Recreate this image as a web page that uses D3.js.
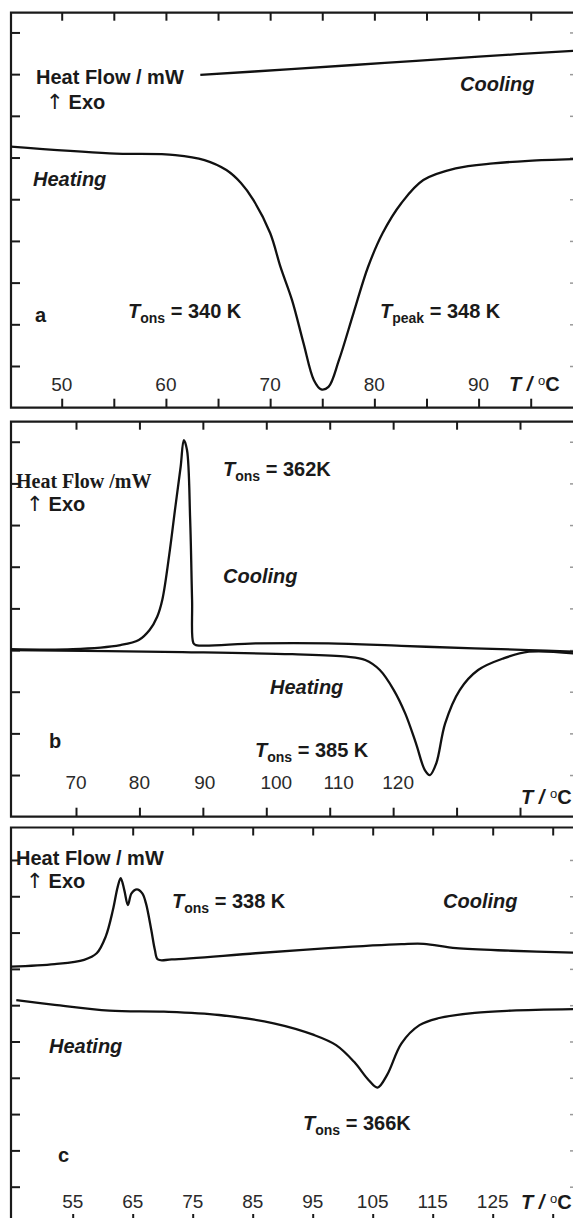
<!DOCTYPE html>
<html><head><meta charset="utf-8">
<script src="https://cdn.jsdelivr.net/npm/d3@7"></script>
<style>
body{margin:0;background:#fff;}
svg{display:block;}
text{font-family:"Liberation Sans",Arial,sans-serif;}
</style>
</head><body>
<svg id="chart" width="573" height="1218"></svg>
<script>
// ---------- data ----------
// Panel a
const aHeatT = [45.1,54.6,60.9,63.7,65.8,67.2,68.4,70.0,71.0,72.1,73.2,74.2,74.9,75.6,76.6,78.0,79.4,80.8,82.6,84.7,87.8,91.4,94.8,99.1];
const aHeatY = [6.26,6.10,6.06,5.94,5.70,5.39,4.98,4.19,3.37,2.58,1.55,0.66,0.44,0.50,1.14,2.27,3.38,4.19,4.91,5.46,5.74,5.86,5.92,5.96];
const aCoolT = [63.3,72.0,81.0,90.0,99.1];
const aCoolY = [7.98,8.12,8.27,8.42,8.56];
const aTicks = [50,55,60,65,70,75,80,85,90,95];
const aTickLabels = [50,60,70,80,90];
// Panel b
const bCoolT = [59.7,69.5,77.0,79.9,81.6,82.8,83.6,84.8,85.6,86.5,87.0,87.5,88.0,88.3,88.5,88.9,98.3,109.8,121.3,132.8,141.4,148.4];
const bCoolY = [4.02,4.02,4.12,4.24,4.48,4.80,5.20,6.40,7.36,8.40,9.04,8.80,7.12,5.20,4.17,4.12,4.16,4.16,4.10,4.04,4.00,3.96];
const bHeatT = [59.7,86.8,104.1,112.7,115.6,117.9,120.1,121.9,123.6,125.0,125.8,126.8,128.2,130.5,133.4,137.4,141.4,148.4];
const bHeatY = [4.00,3.95,3.90,3.84,3.76,3.52,3.04,2.48,1.76,1.12,1.00,1.28,2.24,3.04,3.52,3.80,3.96,3.92];
const bTicks = [70,80,90,100,110,120,130,140];
const bTickLabels = [70,80,90,100,110,120];
// Panel c
const cCoolT = [44.7,52.0,56.9,59.0,60.5,61.7,62.5,63.0,63.6,64.2,64.8,65.7,66.6,67.2,68.1,68.7,69.2,71.5,85.5,97.6,109.8,113.5,118.9,128.1,138.4];
const cCoolY = [7.06,7.13,7.25,7.43,7.89,8.62,9.26,9.50,9.17,8.76,9.08,9.19,9.08,8.81,8.07,7.52,7.26,7.26,7.43,7.57,7.68,7.69,7.57,7.50,7.45];
const cHeatT = [45.6,52.0,61.1,70.2,79.4,88.5,95.2,98.9,101.9,104.3,105.8,107.4,109.8,112.8,115.9,122.0,128.1,138.4];
const cHeatY = [6.14,6.01,5.85,5.82,5.73,5.50,5.18,4.90,4.44,3.94,3.73,4.08,4.95,5.45,5.64,5.79,5.85,5.89];
const cTicks = [55,65,75,85,95,105,115,125,135];
const cTickLabels = [55,65,75,85,95,105,115,125];

// ---------- drawing ----------
const svg = d3.select("#chart");
const W = 573, L = 11, INK = "#1a1a1a";

function zip(t, y){ return t.map((v,i)=>[v, y[i]]); }

function subLabel(g, x, y, sub, rest){
  const t = g.append("text").attr("x", x).attr("y", y)
    .attr("font-size", 20).attr("font-weight", "bold").attr("fill", INK);
  t.append("tspan").attr("font-style","italic").text("T");
  t.append("tspan").attr("font-size", 14).attr("dy", 5).text(sub);
  t.append("tspan").attr("dy", -5).text(rest);
}
function plain(g, x, y, s, opts={}){
  const t = g.append("text").attr("x", x).attr("y", y)
    .attr("font-size", opts.size||20).attr("font-weight", opts.weight||"bold")
    .attr("font-style", opts.style||"normal").attr("fill", opts.fill||INK)
    .attr("text-anchor", opts.anchor||"start").text(s);
  if (opts.family) t.style("font-family", opts.family);
  return t;
}
function exo(g, x, y){
  const t = g.append("text").attr("x", x).attr("y", y).attr("font-size", 20)
    .attr("font-weight","bold").attr("fill", INK);
  t.append("tspan").style("font-family","'DejaVu Sans',sans-serif").attr("font-weight","normal")
    .attr("font-size", 21).text("↑");
  t.append("tspan").attr("dx", 5).text("Exo");
}
function unitLabel(g, x, y){
  const t = g.append("text").attr("x", x).attr("y", y).attr("font-size", 20)
    .attr("font-weight","bold").attr("fill", INK);
  t.append("tspan").attr("font-style","italic").text("T");
  t.append("tspan").attr("font-style","italic").text(" / ");
  t.append("tspan").attr("font-size", 13).attr("dy", -6).attr("font-weight","normal").text("o");
  t.append("tspan").attr("dy", 6).text("C");
}

function panel(cfg){
  const g = svg.append("g");
  const x = d3.scaleLinear().domain(cfg.xDom).range(cfg.xRng);
  const y = d3.scaleLinear().domain(cfg.yDom).range([cfg.bottom, cfg.yTop]);
  const id = "clip" + cfg.name;
  svg.append("clipPath").attr("id", id).append("rect")
    .attr("x", L).attr("y", cfg.top).attr("width", W - L).attr("height", cfg.bottom - cfg.top);

  // ticks
  const top = g.append("g").attr("transform", `translate(0,${cfg.top})`)
    .call(d3.axisTop(x).tickValues(cfg.ticks).tickSize(-8).tickSizeOuter(0).tickFormat(""));
  const bot = g.append("g").attr("transform", `translate(0,${cfg.bottom})`)
    .call(d3.axisBottom(x).tickValues(cfg.ticks).tickSize(-9).tickSizeOuter(0).tickFormat(""));
  const lft = g.append("g").attr("transform", `translate(${L},0)`)
    .call(d3.axisLeft(y).tickValues(d3.range(1, cfg.nY + 1)).tickSize(-9).tickSizeOuter(0).tickFormat(""));
  const rgt = g.append("g").attr("transform", `translate(${W},0)`)
    .call(d3.axisRight(y).tickValues(d3.range(1, cfg.nY + 1)).tickSize(-3).tickSizeOuter(0).tickFormat(""));
  [top, bot, lft, rgt].forEach(a => {
    a.select(".domain").remove();
    a.selectAll("line").attr("stroke", INK).attr("stroke-width", 2);
  });
  rgt.selectAll("line").attr("stroke", "#999").attr("stroke-width", 1.5);

  // frame
  g.append("path")
    .attr("d", `M${W},${cfg.top}H${L}V${cfg.bottom}H${W}`)
    .attr("fill", "none").attr("stroke", INK).attr("stroke-width", 2.2);

  // curves
  const line = d3.line().x(d => x(d[0])).y(d => y(d[1])).curve(d3.curveCatmullRom.alpha(0.5));
  const cg = g.append("g").attr("clip-path", `url(#${id})`);
  cfg.series.forEach(s => {
    cg.append("path").attr("d", line(s)).attr("fill", "none")
      .attr("stroke", "#111").attr("stroke-width", 2.3).attr("stroke-linejoin", "round");
  });

  // tick labels
  cfg.labels.forEach((v, i) => {
    plain(g, x(v) + (cfg.labelDx ? cfg.labelDx[i] : 0), cfg.labelY, v,
      {weight: "normal", size: 19, anchor: "middle", fill: "#2a2a2a"});
  });
  unitLabel(g, cfg.unitX, cfg.unitY);
  return g;
}

// Panel a
const ga = panel({name:"a", xDom:[50,95], xRng:[61.7,530.7], ticks:aTicks, labels:aTickLabels,
  yDom:[0,9.5], top:12.7, bottom:407.7, yTop:11.6, nY:9,
  series:[zip(aHeatT,aHeatY), zip(aCoolT,aCoolY)], labelY:391, unitX:509, unitY:391});
plain(ga, 36, 84, "Heat Flow / mW");
exo(ga, 46, 109);
plain(ga, 460, 91, "Cooling", {style:"italic"});
plain(ga, 33, 186, "Heating", {style:"italic"});
plain(ga, 35, 322, "a");
subLabel(ga, 128, 318, "ons", " = 340 K");
subLabel(ga, 380, 318, "peak", " = 348 K");

// Panel b
const gb = panel({name:"b", xDom:[70,140], xRng:[76,520], ticks:bTicks, labels:bTickLabels,
  labelDx:[0,0,2,10,9,5],
  yDom:[0,9.5], top:421.7, bottom:816.7, yTop:420.9, nY:9,
  series:[zip(bCoolT,bCoolY), zip(bHeatT,bHeatY)], labelY:789, unitX:521, unitY:804});
plain(gb, 16, 488, "Heat Flow /mW", {family:"'Liberation Serif','Times New Roman',serif"});
exo(gb, 26, 511);
subLabel(gb, 223, 476, "ons", " = 362K");
plain(gb, 223, 583, "Cooling", {style:"italic"});
plain(gb, 270, 694, "Heating", {style:"italic"});
plain(gb, 49, 748, "b");
subLabel(gb, 255, 757, "ons", " = 385 K");

// Panel c
const gc = panel({name:"c", xDom:[55,135], xRng:[72.7,552.7], ticks:cTicks, labels:cTickLabels,
  yDom:[0,10.9], top:827.5, bottom:1223, yTop:827.3, nY:10,
  series:[zip(cCoolT,cCoolY), zip(cHeatT,cHeatY)], labelY:1208, unitX:521, unitY:1209});
plain(gc, 16, 865, "Heat Flow / mW");
exo(gc, 26, 888);
subLabel(gc, 172, 908, "ons", " = 338 K");
plain(gc, 443, 908, "Cooling", {style:"italic"});
plain(gc, 49, 1053, "Heating", {style:"italic"});
plain(gc, 58, 1162, "c");
subLabel(gc, 303, 1130, "ons", " = 366K");
</script>
</body></html>
